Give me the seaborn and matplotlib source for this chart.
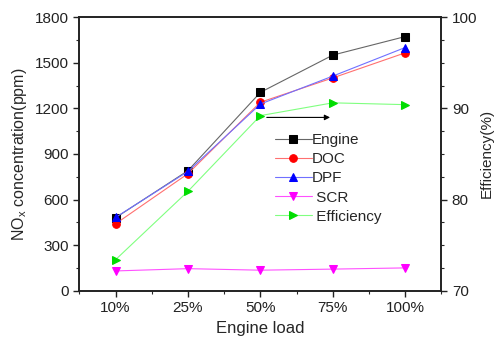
import numpy as np
import pandas as pd
import matplotlib
matplotlib.use('Agg')
import matplotlib.pyplot as plt
import seaborn as sns
from matplotlib.ticker import MultipleLocator

loads = ['10%', '25%', '50%', '75%', '100%']
engine = [480, 790, 1305, 1550, 1672]
doc = [440, 770, 1240, 1400, 1565]
dpf = [482, 785, 1228, 1412, 1600]
scr = [130, 145, 135, 142, 150]
efficiency = [73.4, 80.9, 89.2, 90.6, 90.4]

sns.set_style('ticks')
plt.rcParams['font.family'] = ['Liberation Sans', 'DejaVu Sans']

fig, ax = plt.subplots(figsize=(4.96, 3.42), dpi=100)
x = np.arange(len(loads))

series = [
    ('Engine', engine, 's', '#000000', '#666666'),
    ('DOC', doc, 'o', '#ff0000', '#ff7070'),
    ('DPF', dpf, '^', '#0000ff', '#7070ff'),
    ('SCR', scr, 'v', '#ff00ff', '#ff50ff'),
]
handles = []
for name, vals, mk, mc, lc in series:
    sns.lineplot(x=x, y=vals, ax=ax, color=lc, lw=0.8, marker=mk, markersize=5.5,
                 markerfacecolor=mc, markeredgecolor=mc, label=name, legend=False)
    handles.append(ax.lines[-1])

ax2 = ax.twinx()
sns.lineplot(x=x, y=efficiency, ax=ax2, color='#80ff80', lw=0.8, marker='>', markersize=5.5,
             markerfacecolor='#00dd00', markeredgecolor='#00dd00', label='Efficiency', legend=False)
handles.append(ax2.lines[-1])

ax.set_xlim(-0.5, 4.5)
ax.set_ylim(0, 1800)
ax.yaxis.set_major_locator(MultipleLocator(300))
ax.yaxis.set_minor_locator(MultipleLocator(150))
ax.set_xticks(x)
ax.set_xticklabels(loads)
ax.xaxis.set_minor_locator(MultipleLocator(0.5))
ax2.set_ylim(70, 100)
ax2.yaxis.set_major_locator(MultipleLocator(10))
ax2.yaxis.set_minor_locator(MultipleLocator(2.5))

for a in (ax, ax2):
    for s in a.spines.values():
        s.set_linewidth(1.2)
        s.set_color('#222222')
    a.tick_params(which='major', direction='out', length=4, width=1, labelsize=11,
                  colors='#222222')
    a.tick_params(which='minor', direction='out', length=2, width=0.8)

ax.set_ylabel('NO$_\\mathregular{x}$ concentration(ppm)', fontsize=11.5)
ax.set_xlabel('Engine load', fontsize=12)
ax2.set_ylabel('Efficiency(%)', fontsize=11, labelpad=2)

ax2.annotate('', xy=(3.0, 89.0), xytext=(2.05, 89.0),
             arrowprops=dict(arrowstyle='-|>', color='black', lw=0.8, mutation_scale=8))

ax.legend(handles=handles, labels=['Engine', 'DOC', 'DPF', ' SCR', ' Efficiency'],
          loc='upper left', bbox_to_anchor=(0.54, 0.575), frameon=False, fontsize=11,
          handlelength=2.4, handletextpad=0.0, labelspacing=0.33, borderaxespad=0,
          borderpad=0)

fig.subplots_adjust(left=0.16, right=0.89, top=0.95, bottom=0.15)
fig.savefig('out.png', dpi=100)
